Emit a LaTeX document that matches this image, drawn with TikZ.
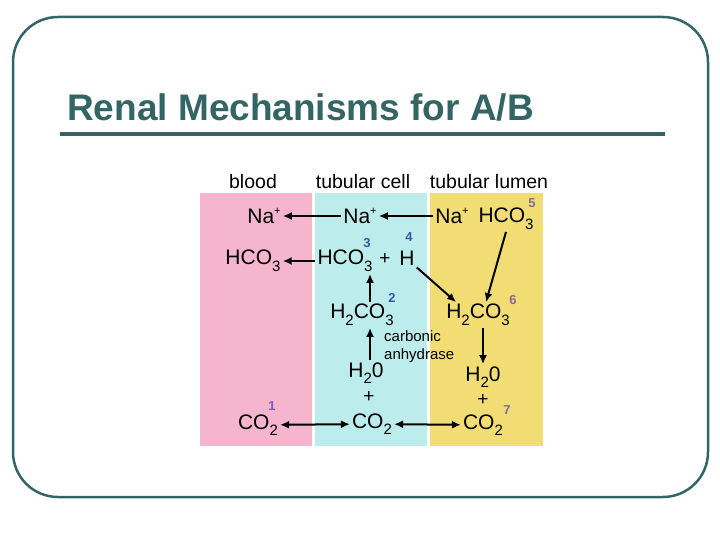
\documentclass[tikz,border=0pt]{standalone}
\usepackage{fontspec}
\setmainfont{Liberation Sans}
\usetikzlibrary{arrows.meta,positioning}

\definecolor{frameteal}{HTML}{336565}
\definecolor{bloodpink}{HTML}{F5B5CD}
\definecolor{cellcyan}{HTML}{BDECEC}
\definecolor{lumenyellow}{HTML}{F2DC74}
\definecolor{numblue}{HTML}{3A56B0}
\definecolor{nummauve}{HTML}{866C92}
\definecolor{numpurple}{HTML}{7657D8}

\newcommand{\sbs}[1]{\raisebox{-0.6ex}{\fontsize{15}{15}\selectfont #1}}
\newcommand{\spp}[1]{\raisebox{0.8ex}{\fontsize{11}{11}\selectfont #1}}

\tikzset{
  chem/.style={inner sep=2pt,font=\fontsize{21}{23}\selectfont},
  pls/.style={inner sep=0pt,font=\fontsize{19}{19}\selectfont},
  hdr/.style={inner sep=1pt,font=\fontsize{19.5}{21}\selectfont},
  num/.style={inner sep=0pt,font=\fontsize{13}{13}\selectfont\bfseries},
  arr/.style={-{Latex[length=9pt,width=8pt]},line width=2pt},
  darr/.style={{Latex[length=9pt,width=8pt]}-{Latex[length=9pt,width=8pt]},line width=2pt}
}

\begin{document}
\begin{tikzpicture}[x=1pt,y=-1pt]
\useasboundingbox (0,0) rectangle (720,540);

% slide frame and title
\draw[frameteal,line width=2.5pt,rounded corners=45pt] (13,17) rectangle (708,497);
\node[anchor=base west,inner sep=0pt,text=frameteal,font=\fontsize{37}{40}\selectfont\bfseries] (title) at (67,121) {Renal Mechanisms for A/B};
\draw[frameteal,line width=4pt] (60,134) -- (665,134);

% columns
\fill[bloodpink] (200,193) rectangle (312,446);
\fill[cellcyan] (315,193) rectangle (427,446);
\fill[lumenyellow] (430,193) rectangle (543,446);

\node[hdr] (blood) at (253,182) {blood};
\node[hdr] (cell) at (363,182) {tubular cell};
\node[hdr] (lumen) at (489,182) {tubular lumen};

% sodium row
\node[chem] (naB) at (264,216) {Na\spp{+}};
\node[chem] (naC) at (360,216) {Na\spp{+}};
\node[chem] (naL) at (452,216) {Na\spp{+}};
\node[chem] (hcoL) at (506,219) {HCO\sbs{3}};
\node[num,text=nummauve] (n5) at (532,203) {5};

% bicarbonate row
\node[chem] (hcoB) at (253,261) {HCO\sbs{3}};
\node[chem] (hcoC) at (345,261) {HCO\sbs{3}};
\node[pls] (plusH) at (385,259) {+};
\node[chem] (hC) at (407,258) {H};
\node[num,text=numblue] (n3) at (367,243) {3};
\node[num,text=numblue] (n4) at (409,237) {4};

% carbonic acid
\node[chem] (hcaC) at (362,315) {H\sbs{2}CO\sbs{3}};
\node[num,text=numblue] (n2) at (392,298) {2};
\node[chem] (hcaL) at (478,315) {H\sbs{2}CO\sbs{3}};
\node[num,text=nummauve] (n6) at (513,300) {6};
\node[anchor=west,align=left,inner sep=0pt,font=\fontsize{15}{18}\selectfont] (enz) at (384,347) {carbonic\\anhydrase};

% water and carbon dioxide
\node[chem] (h2oC) at (366,373) {H\sbs{2}0};
\node[pls] (plC) at (369,397) {+};
\node[chem] (co2C) at (372,424) {CO\sbs{2}};
\node[chem] (h2oL) at (483,377) {H\sbs{2}0};
\node[pls] (plL) at (483,400) {+};
\node[chem] (co2L) at (483,425) {CO\sbs{2}};
\node[num,text=nummauve] (n7) at (507,410) {7};
\node[chem] (co2B) at (258,425) {CO\sbs{2}};
\node[num,text=numpurple] (n1) at (272,406) {1};

% arrows
\draw[arr] (naC) -- (naB);
\draw[arr] (naL) -- (naC);
\draw[arr] (hcoC) -- (hcoB);
\draw[arr] (hC.south east) -- ([xshift=-22pt]hcaL.north);
\draw[arr] (hcoL.south) -- ([xshift=8pt]hcaL.north);
\draw[arr] ([xshift=8pt]hcaC.north) -- ([xshift=25pt]hcoC.south);
\draw[arr] ([xshift=4pt]h2oC.north) -- ([xshift=8pt]hcaC.south);
\draw[arr] ([xshift=5pt]hcaL.south) -- (h2oL.north);
\draw[darr] (co2B) -- (co2C);
\draw[darr] (co2C) -- (co2L);
\end{tikzpicture}
\end{document}
